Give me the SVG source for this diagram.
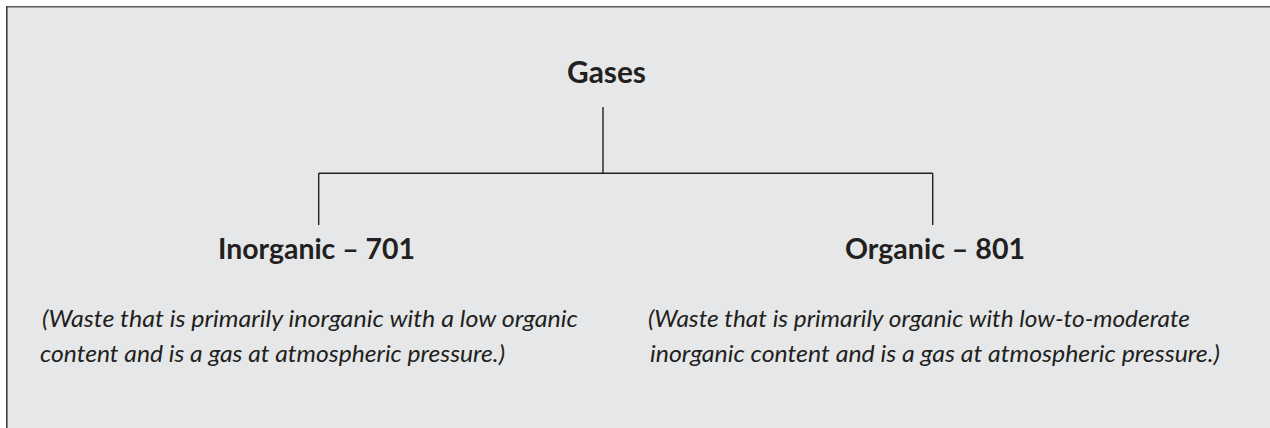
<svg xmlns="http://www.w3.org/2000/svg" width="1270" height="428" viewBox="0 0 1270 428">
  <style>
    .frame-top { stroke: #58595b; stroke-width: 1.6; fill: none; }
    .frame-left { stroke: #414042; stroke-width: 1.6; fill: none; }
    .conn { stroke: #231f20; stroke-width: 1.4; fill: none; }
    .title { font-family: Lato, "Open Sans", "Liberation Sans", sans-serif; font-weight: bold; fill: #231f20; text-anchor: middle; }
    .desc { font-family: Lato, "Open Sans", "Liberation Sans", sans-serif; font-style: italic; font-size: 24px; fill: #231f20; }
  </style>
  <rect x="0" y="0" width="1270" height="428" fill="#ffffff"/>
  <rect x="7" y="7" width="1263" height="421" fill="#e6e7e8"/>
  <line class="frame-top" x1="6" y1="6.8" x2="1270" y2="6.8"/>
  <line class="frame-left" x1="6.8" y1="6" x2="6.8" y2="428"/>

  <g id="connectors">
    <line class="conn" x1="603" y1="107" x2="603" y2="173.3"/>
    <line class="conn" x1="318.7" y1="173.3" x2="932.7" y2="173.3"/>
    <line class="conn" x1="318.7" y1="173.3" x2="318.7" y2="225"/>
    <line class="conn" x1="932.7" y1="173.3" x2="932.7" y2="225"/>
  </g>

  <g id="node-gases">
    <text class="title" x="606.5" y="83" font-size="30" textLength="79" lengthAdjust="spacingAndGlyphs">Gases</text>
  </g>

  <g id="node-inorganic">
    <text class="title" x="316.5" y="258.5" font-size="28" textLength="197" lengthAdjust="spacingAndGlyphs">Inorganic – 701</text>
    <text class="desc" x="42" y="327" textLength="536" lengthAdjust="spacingAndGlyphs">(Waste that is primarily inorganic with a low organic</text>
    <text class="desc" x="40" y="362" textLength="465" lengthAdjust="spacingAndGlyphs">content and is a gas at atmospheric pressure.)</text>
  </g>

  <g id="node-organic">
    <text class="title" x="935" y="258.5" font-size="28" textLength="180" lengthAdjust="spacingAndGlyphs">Organic – 801</text>
    <text class="desc" x="648" y="327" textLength="542" lengthAdjust="spacingAndGlyphs">(Waste that is primarily organic with low-to-moderate</text>
    <text class="desc" x="650" y="362" textLength="570" lengthAdjust="spacingAndGlyphs">inorganic content and is a gas at atmospheric pressure.)</text>
  </g>
</svg>
